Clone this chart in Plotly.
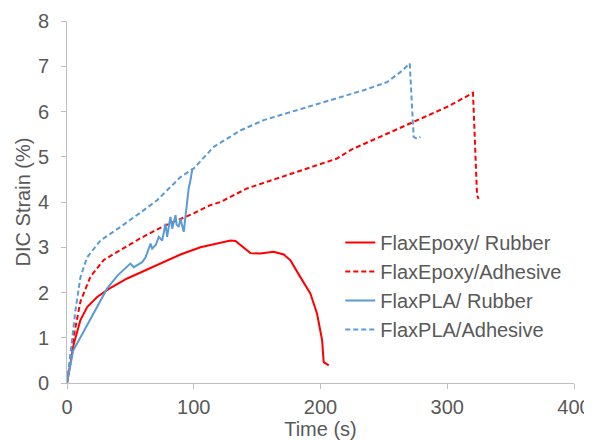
import plotly.graph_objects as go

# FlaxEpoxy/ Rubber
ep_rub_t = [0, 5.4, 10.6, 15.9, 23.8, 33, 47.5, 73.7, 89.5, 105.3, 123.7, 129, 132.9, 138, 144.7, 152.6, 163, 171, 176.3, 184.1, 192, 197.3, 201.3, 202.5, 206.5]
ep_rub_s = [0, 0.87, 1.39, 1.68, 1.90, 2.08, 2.31, 2.64, 2.84, 3.0, 3.12, 3.15, 3.14, 3.02, 2.87, 2.86, 2.90, 2.84, 2.71, 2.34, 1.98, 1.53, 0.94, 0.46, 0.39]

# FlaxEpoxy/Adhesive
ep_adh_t = [0, 5.4, 10.6, 18.5, 29, 47.5, 58, 75, 90, 100, 113, 121, 142, 168.4, 194.6, 213, 221, 226, 247, 273.5, 299.8, 320.3, 322, 323.5, 324.8]
ep_adh_s = [0, 1.05, 1.8, 2.35, 2.72, 3.02, 3.2, 3.45, 3.62, 3.75, 3.93, 4.0, 4.3, 4.54, 4.79, 4.96, 5.1, 5.18, 5.44, 5.77, 6.10, 6.41, 5.2, 4.15, 4.07]

# FlaxPLA/ Rubber
pla_rub_t = [0, 4.9, 10, 20, 31.7, 40, 46, 50, 52.7, 56, 59.3, 62, 65.9, 67.2, 70, 72.4, 75.1, 77.7, 79, 81.6, 83, 85.6, 86.5, 88.2, 89.5, 92.1, 93.5, 94.8, 96, 97.4, 98.7, 99]
pla_rub_s = [0, 0.72, 0.98, 1.5, 2.09, 2.38, 2.55, 2.64, 2.56, 2.62, 2.67, 2.78, 3.08, 2.97, 3.05, 3.23, 3.15, 3.52, 3.23, 3.67, 3.41, 3.71, 3.5, 3.45, 3.63, 3.34, 3.74, 4.04, 4.3, 4.48, 4.70, 4.75]

# FlaxPLA/Adhesive
pla_adh_t = [0, 6.7, 10.6, 15.9, 26.4, 42.2, 60.6, 71.1, 89.5, 100, 115.8, 136.8, 155.2, 181.5, 207.8, 234, 252.5, 263, 270.4, 273.5, 276, 278.8]
pla_adh_s = [0, 1.61, 2.34, 2.78, 3.15, 3.45, 3.82, 4.04, 4.55, 4.74, 5.22, 5.58, 5.81, 6.03, 6.25, 6.47, 6.65, 6.87, 7.06, 5.44, 5.40, 5.44]

x_ticks = [0, 100, 200, 300, 400]
y_ticks = [0, 1, 2, 3, 4, 5, 6, 7, 8]

RED = "#FF0000"
BLUE = "#5B9BD5"
GREY = "#595959"
AXIS = "#BFBFBF"
FONT = "Liberation Sans, Arial, sans-serif"
FS = 20

fig = go.Figure()
fig.add_trace(go.Scatter(x=ep_rub_t, y=ep_rub_s, mode="lines", name="FlaxEpoxy/ Rubber",
                         line=dict(color=RED, width=2)))
fig.add_trace(go.Scatter(x=ep_adh_t, y=ep_adh_s, mode="lines", name="FlaxEpoxy/Adhesive",
                         line=dict(color=RED, width=2, dash="5px,3px")))
fig.add_trace(go.Scatter(x=pla_rub_t, y=pla_rub_s, mode="lines", name="FlaxPLA/ Rubber",
                         line=dict(color=BLUE, width=2)))
fig.add_trace(go.Scatter(x=pla_adh_t, y=pla_adh_s, mode="lines", name="FlaxPLA/Adhesive",
                         line=dict(color=BLUE, width=2, dash="5px,3px")))

# The page body adds an 8px offset, so the margins are set to compensate.
fig.update_layout(
    width=592, height=440,
    margin=dict(l=58.5, r=26.4, t=12.7, b=65.3, autoexpand=False),
    paper_bgcolor="white", plot_bgcolor="white",
    font=dict(family=FONT, size=FS, color=GREY),
    showlegend=True,
    legend=dict(x=0.539, y=0.442, xanchor="left", yanchor="top",
                bgcolor="rgba(0,0,0,0)", font=dict(size=FS, color=GREY),
                itemwidth=30, tracegroupgap=0),
    xaxis=dict(range=[0, 400], tickvals=x_ticks, showgrid=False, zeroline=False,
               showline=True, linecolor=AXIS, linewidth=1, ticks="outside",
               tickcolor=AXIS, ticklen=5, tickfont=dict(size=FS, color=GREY),
               ticklabelstandoff=1, automargin=False,
               title=dict(text="Time (s)", font=dict(size=FS, color=GREY), standoff=0)),
    yaxis=dict(range=[0, 8], tickvals=y_ticks, showgrid=False, zeroline=False,
               showline=True, linecolor=AXIS, linewidth=1, ticks="outside",
               tickcolor=AXIS, ticklen=5, tickfont=dict(size=FS, color=GREY),
               ticklabelstandoff=8, automargin=False,
               title=dict(text="DIC Strain (%)", font=dict(size=FS, color=GREY), standoff=1)),
)

fig.write_html("out.html")
